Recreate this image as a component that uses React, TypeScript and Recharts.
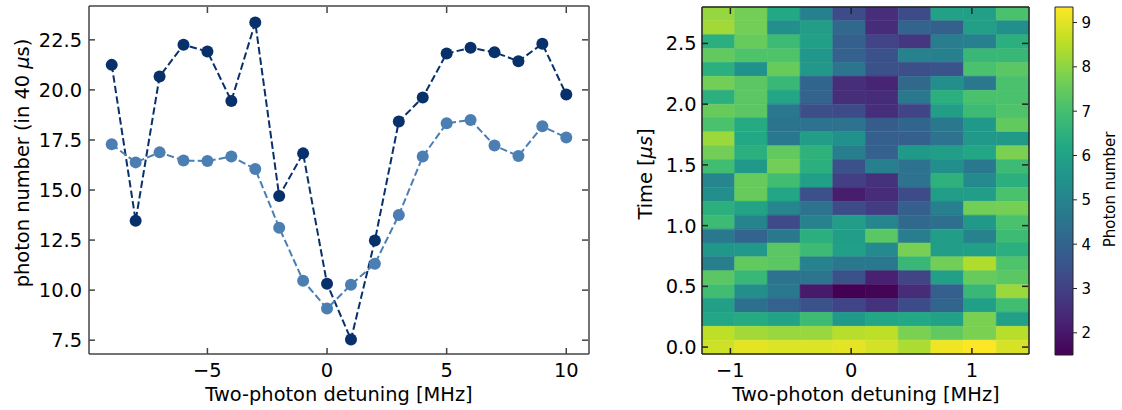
import React from 'react';
import { LineChart, Line, ComposedChart, Scatter, ReferenceArea, XAxis, YAxis, Label } from 'recharts';

// left panel: photon number vs two-photon detuning
const detuning = [-9, -8, -7, -6, -5, -4, -3, -2, -1, 0, 1, 2, 3, 4, 5, 6, 7, 8, 9, 10];
const photonsDark = [21.25, 13.47, 20.67, 22.25, 21.92, 19.45, 23.37, 14.7, 16.83, 10.32, 7.53, 12.48, 18.42, 19.62, 21.82, 22.1, 21.88, 21.43, 22.3, 19.77];
const photonsLight = [17.28, 16.38, 16.88, 16.47, 16.45, 16.67, 16.05, 13.12, 10.47, 9.08, 10.27, 11.32, 13.75, 16.67, 18.33, 18.5, 17.22, 16.7, 18.18, 17.62];
const lineTicksX = [-5, 0, 5, 10];
const lineTicksY = [7.5, 10, 12.5, 15, 17.5, 20, 22.5];

// right panel: photon number map, rows listed from the top (latest time) down
const mapDetuning = [-1.0996, -0.8288, -0.558, -0.2872, -0.0164, 0.2544, 0.5252, 0.796, 1.0668, 1.3376];
const mapTime = [2.743, 2.629, 2.515, 2.4, 2.286, 2.172, 2.057, 1.943, 1.829, 1.714, 1.6, 1.486, 1.372, 1.257, 1.143, 1.029, 0.914, 0.8, 0.686, 0.572, 0.457, 0.343, 0.229, 0.114, 0];
const photonMap = [
  [8.1, 7.66, 6.21, 4.88, 3.27, 2.52, 3.27, 5.97, 5.9, 7.07],
  [8.25, 7.66, 5.35, 5.82, 4.17, 2.48, 4.01, 3.86, 5.9, 5.35],
  [6.45, 7.51, 6.84, 5.9, 3.86, 3.07, 2.76, 4.8, 4.88, 6.45],
  [7.43, 7.15, 7.15, 5.58, 3.93, 3.46, 4.95, 4.88, 6.72, 6.72],
  [6.45, 5.43, 7.51, 5.66, 4.56, 3.46, 3.38, 3.54, 7.07, 7.31],
  [7.66, 7.35, 6.72, 4.05, 2.52, 2.29, 4.17, 5.35, 4.64, 7.07],
  [6.45, 7.35, 6.13, 4.01, 2.52, 2.48, 4.64, 6.45, 7.07, 7.07],
  [7.51, 7.35, 4.64, 3.38, 3.27, 2.52, 3.07, 5.82, 6.84, 7.15],
  [7.07, 6.29, 4.52, 4.44, 4.44, 3.78, 4.05, 4.64, 5.7, 7.43],
  [8.17, 6.21, 4.64, 5.82, 5.43, 3.86, 3.86, 4.44, 5.66, 5.7],
  [7.66, 6.45, 7.43, 6.52, 4.84, 3.93, 5.7, 5.82, 6.13, 7.78],
  [6.92, 5.7, 7.66, 6.45, 3.46, 4.88, 4.44, 5.35, 4.64, 6.84],
  [5.11, 7.51, 6.92, 5.9, 2.95, 2.6, 4.44, 6.52, 5.19, 6.45],
  [5.35, 7.51, 6.13, 3.46, 2.13, 2.48, 3.27, 5.82, 5.82, 7.07],
  [6.45, 6.05, 5.11, 4.44, 3.27, 2.87, 3.86, 4.88, 7.66, 7.7],
  [6.84, 5.03, 3.23, 4.95, 5.82, 5.11, 4.17, 4.37, 5.7, 7.07],
  [4.64, 4.01, 4.64, 6.45, 5.82, 7.31, 4.8, 5.82, 4.95, 6.84],
  [5.58, 5.66, 7.31, 6.84, 5.9, 5.19, 7.74, 5.82, 5.9, 6.45],
  [4.84, 7.43, 7.31, 4.95, 4.64, 4.64, 6.72, 7.66, 8.41, 7.15],
  [7.31, 6.72, 4.44, 4.56, 3.46, 2.21, 3.07, 5.9, 7.51, 7.31],
  [6.92, 5.35, 4.64, 2.05, 1.5, 1.58, 2.48, 3.86, 6.72, 8.17],
  [5.9, 4.4, 3.93, 3.46, 3.07, 2.64, 3.27, 4.05, 5.9, 6.92],
  [6.13, 6.29, 6.05, 6.84, 5.7, 6.13, 6.21, 5.97, 7.78, 5.9],
  [8.57, 8.25, 8.13, 8.13, 8.49, 8.57, 7.78, 7.43, 7.78, 8.49],
  [8.76, 9.04, 8.96, 8.96, 9.04, 8.84, 8.37, 9.19, 9.35, 8.88],
];
const mapTicksX = [-1, 0, 1];
const mapTicksY = [0, 0.5, 1, 1.5, 2, 2.5];
const barTicks = [2, 3, 4, 5, 6, 7, 8, 9];
const COLOR_MIN = 1.5;
const COLOR_MAX = 9.35;

const FONT = '"DejaVu Sans", sans-serif';
const FS = 19.4;
const FS_BAR = 15;
const FRAME = '#444';
const MAP_FRAME = '#222';
const TICK = 6;
const DARK = '#08306b';
const LIGHT = '#4b7fb3';
const VIRIDIS = ['#440154', '#482475', '#414487', '#355f8d', '#2a788e', '#21918c', '#22a884', '#44bf70', '#7ad151', '#bddf26', '#fde725'];

const hexRgb = (h: string) => [1, 3, 5].map(i => parseInt(h.slice(i, i + 2), 16));
function viridis(v: number) {
  const t = Math.min(1, Math.max(0, (v - COLOR_MIN) / (COLOR_MAX - COLOR_MIN))) * 10;
  const i = Math.min(9, Math.floor(t));
  const f = t - i;
  const a = hexRgb(VIRIDIS[i]);
  const b = hexRgb(VIRIDIS[i + 1]);
  const c = a.map((x, k) => Math.round(x + (b[k] - x) * f));
  return `rgb(${c[0]},${c[1]},${c[2]})`;
}

const fmtSigned = (v: number) => (v < 0 ? '\u2212' + Math.abs(v) : String(v));
const fmt1 = (v: number) => v.toFixed(1);
const txt = { fontFamily: FONT, fill: '#000' };

const bottomTick = (fmt: (v: number) => string, col: string) => (p: any) => (
  <g>
    <line x1={p.x} y1={p.y} x2={p.x} y2={p.y - TICK} stroke={col} strokeWidth={1.5} />
    <text x={p.x} y={p.y + 23} textAnchor="middle" fontSize={FS} {...txt}>{fmt(p.payload.value)}</text>
  </g>
);
const leftTick = (fmt: (v: number) => string, gap: number, col: string) => (p: any) => (
  <g>
    <line x1={p.x} y1={p.y} x2={p.x + TICK} y2={p.y} stroke={col} strokeWidth={1.5} />
    <text x={p.x - gap} y={p.y + 7} textAnchor="end" fontSize={FS} {...txt}>{fmt(p.payload.value)}</text>
  </g>
);
// top / right axes are 1px wide, so the tick starts on the frame line 1px away
const topTick = (col: string) => (p: any) => <line x1={p.x} y1={p.y + 1} x2={p.x} y2={p.y + 1 + TICK} stroke={col} strokeWidth={1.5} />;
const rightTick = (col: string) => (p: any) => <line x1={p.x - 1} y1={p.y} x2={p.x - 1 - TICK} y2={p.y} stroke={col} strokeWidth={1.5} />;
const barTick = (p: any) => (
  <g>
    <line x1={p.x} y1={p.y} x2={p.x + 4} y2={p.y} stroke="#222" strokeWidth={1} />
    <text x={p.x + 8.5} y={p.y + 5.5} textAnchor="start" fontSize={FS_BAR} {...txt}>{p.payload.value}</text>
  </g>
);

const title = (x: number, y: number, rot: boolean, body: React.ReactNode, size = FS) => () => (
  <text x={x} y={y} textAnchor="middle" fontSize={size} {...txt}
    transform={rot ? `rotate(-90, ${x}, ${y})` : undefined}>{body}</text>
);

export default function App() {
  const lineData = detuning.map((x, i) => ({ x, dark: photonsDark[i], light: photonsLight[i] }));
  const frameLine = { stroke: FRAME, strokeWidth: 1.5 };
  const mapLine = { stroke: MAP_FRAME, strokeWidth: 1.5 };

  const hw = (mapDetuning[1] - mapDetuning[0]) / 2;
  const hh = (mapTime[0] - mapTime[1]) / 2;
  const cells = photonMap.flatMap((row, i) => row.map((v, j) => ({
    key: `${i}-${j}`,
    x1: mapDetuning[j] - hw, x2: mapDetuning[j] + hw,
    y1: mapTime[i] - hh, y2: mapTime[i] + hh,
    color: viridis(v),
  })));
  const centers = cells.map(c => ({ x: (c.x1 + c.x2) / 2, y: (c.y1 + c.y2) / 2 }));
  const mapX: [number, number] = [mapDetuning[0] - hw, mapDetuning[mapDetuning.length - 1] + hw];
  const mapY: [number, number] = [mapTime[mapTime.length - 1] - hh, mapTime[0] + hh];

  return (
    <div style={{ position: 'absolute', left: 0, top: 0, width: 1122, height: 410, background: '#fff' }}>
      <div style={{ position: 'absolute', left: 0, top: 0 }}>
        <LineChart width={600} height={410} data={lineData} margin={{ top: 5, right: 10, bottom: 0, left: 0 }}>
          <XAxis xAxisId="b" dataKey="x" type="number" domain={[-9.95, 10.95]} allowDataOverflow ticks={lineTicksX} interval={0}
            height={56} tickSize={0} tickMargin={0} axisLine={frameLine} tick={bottomTick(fmtSigned, FRAME)}>
            <Label content={title(339, 400.5, false, 'Two-photon detuning [MHz]')} />
          </XAxis>
          <XAxis xAxisId="t" orientation="top" dataKey="x" type="number" domain={[-9.95, 10.95]} allowDataOverflow ticks={lineTicksX} interval={0}
            height={1} tickSize={0} tickMargin={0} axisLine={frameLine} tick={topTick(FRAME)} />
          <YAxis yAxisId="l" type="number" domain={[6.81, 24.19]} allowDataOverflow ticks={lineTicksY} interval={0}
            width={89} tickSize={0} tickMargin={0} axisLine={frameLine} tick={leftTick(fmt1, 7, FRAME)}>
            <Label content={title(28.5, 163, true, <>photon number (in 40 <tspan fontStyle="italic">μ</tspan>s)</>)} />
          </YAxis>
          <YAxis yAxisId="r" orientation="right" type="number" domain={[6.81, 24.19]} allowDataOverflow ticks={lineTicksY} interval={0}
            width={1} tickSize={0} tickMargin={0} axisLine={frameLine} tick={rightTick(FRAME)} />
          <Line xAxisId="b" yAxisId="l" type="linear" dataKey="dark" stroke={DARK} strokeWidth={2} strokeDasharray="7.4 3.2"
            dot={{ r: 6, fill: DARK, stroke: 'none', strokeDasharray: '0' }} isAnimationActive={false} />
          <Line xAxisId="b" yAxisId="l" type="linear" dataKey="light" stroke={LIGHT} strokeWidth={2} strokeDasharray="7.4 3.2"
            dot={{ r: 6, fill: LIGHT, stroke: 'none', strokeDasharray: '0' }} isAnimationActive={false} />
        </LineChart>
      </div>

      {/* heatmap cells */}
      <div style={{ position: 'absolute', left: 600, top: 0 }}>
        <ComposedChart width={430} height={410} margin={{ top: 7, right: 1, bottom: 56, left: 102 }}>
          <XAxis xAxisId="b" dataKey="x" type="number" domain={mapX} allowDataOverflow hide />
          <YAxis yAxisId="l" dataKey="y" type="number" domain={mapY} allowDataOverflow hide />
          <Scatter xAxisId="b" yAxisId="l" data={centers} dataKey="y" shape={() => <g />} isAnimationActive={false} />
          {cells.map(c => (
            <ReferenceArea key={c.key} xAxisId="b" yAxisId="l" x1={c.x1} x2={c.x2} y1={c.y1} y2={c.y2}
              fill={c.color} fillOpacity={1} stroke={c.color} strokeWidth={0.6} ifOverflow="visible" />
          ))}
        </ComposedChart>
      </div>

      {/* heatmap frame, ticks and titles drawn over the cells */}
      <div style={{ position: 'absolute', left: 600, top: 0 }}>
        <ComposedChart width={430} height={410} margin={{ top: 6, right: 0, bottom: 0, left: 0 }}>
          <Scatter xAxisId="b" yAxisId="l" data={centers} dataKey="y" shape={() => <g />} isAnimationActive={false} />
          <XAxis xAxisId="b" dataKey="x" type="number" domain={mapX} allowDataOverflow ticks={mapTicksX} interval={0}
            height={56} tickSize={0} tickMargin={0} axisLine={mapLine} tick={bottomTick(fmtSigned, MAP_FRAME)}>
            <Label content={title(266, 400.5, false, 'Two-photon detuning [MHz]')} />
          </XAxis>
          <XAxis xAxisId="t" orientation="top" dataKey="x" type="number" domain={mapX} allowDataOverflow ticks={mapTicksX} interval={0}
            height={1} tickSize={0} tickMargin={0} axisLine={mapLine} tick={topTick(MAP_FRAME)} />
          <YAxis yAxisId="l" dataKey="y" type="number" domain={mapY} allowDataOverflow ticks={mapTicksY} interval={0}
            width={102} tickSize={0} tickMargin={0} axisLine={mapLine} tick={leftTick(fmt1, 5.5, MAP_FRAME)}>
            <Label content={title(52, 174, true, <>Time [<tspan fontStyle="italic">μs</tspan>]</>)} />
          </YAxis>
          <YAxis yAxisId="r" orientation="right" dataKey="y" type="number" domain={mapY} allowDataOverflow ticks={mapTicksY} interval={0}
            width={1} tickSize={0} tickMargin={0} axisLine={mapLine} tick={rightTick(MAP_FRAME)} />
        </ComposedChart>
      </div>

      <div style={{ position: 'absolute', left: 1040, top: 0 }}>
        <ComposedChart width={82} height={410} margin={{ top: 7, right: 0, bottom: 55, left: 15 }}>
          <defs>
            <linearGradient id="viridisBar" x1="0" y1="1" x2="0" y2="0">
              {VIRIDIS.map((c, i) => <stop key={c} offset={i / (VIRIDIS.length - 1)} stopColor={c} />)}
            </linearGradient>
          </defs>
          <XAxis xAxisId="cb" dataKey="x" type="number" domain={[0, 1]} hide />
          <YAxis yAxisId="cb" orientation="right" dataKey="y" type="number" domain={[COLOR_MIN, COLOR_MAX]} allowDataOverflow
            ticks={barTicks} interval={0} width={49} tickSize={0} tickMargin={0} axisLine={false} tick={barTick}>
            <Label content={title(75, 189.5, true, 'Photon number', FS_BAR)} />
          </YAxis>
          <Scatter xAxisId="cb" yAxisId="cb" data={[{ x: 0.5, y: COLOR_MIN }]} dataKey="y" shape={() => <g />} isAnimationActive={false} />
          <ReferenceArea xAxisId="cb" yAxisId="cb" x1={0} x2={1} y1={COLOR_MIN} y2={COLOR_MAX}
            fill="url(#viridisBar)" fillOpacity={1} stroke="#222" strokeWidth={1} ifOverflow="visible" />
        </ComposedChart>
      </div>
    </div>
  );
}
